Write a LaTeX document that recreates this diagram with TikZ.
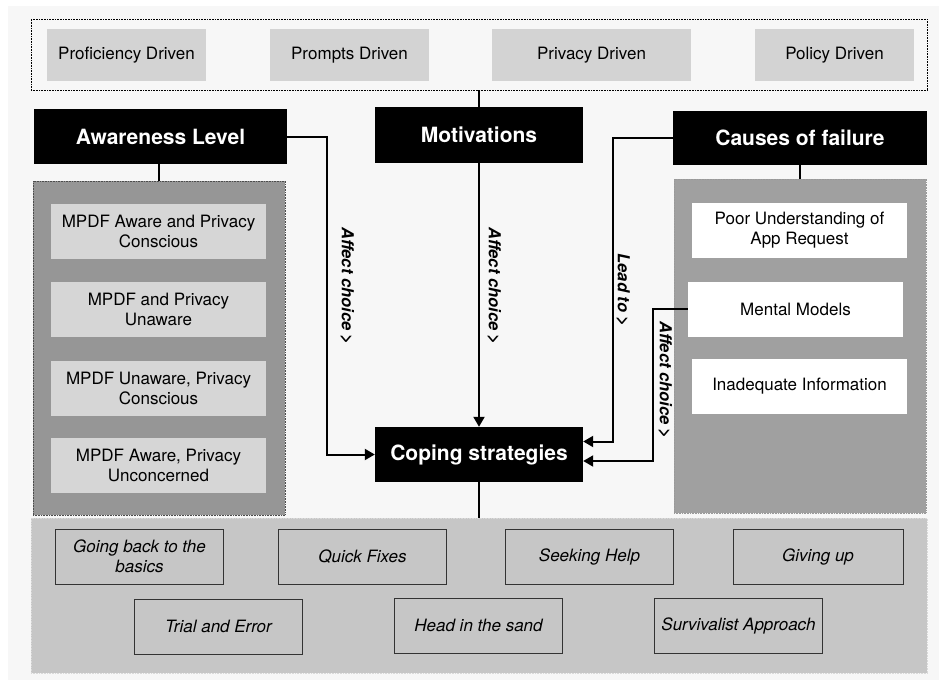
\documentclass[tikz,border=0pt]{standalone}
\usepackage{fontspec}
\setmainfont{TeX Gyre Heros}
\usepackage{tikz}
\usetikzlibrary{positioning,arrows.meta}

\definecolor{paper}{HTML}{F7F7F7}
\definecolor{drivegray}{HTML}{D3D3D3}
\definecolor{leftgray}{HTML}{969696}
\definecolor{leftitem}{HTML}{D6D6D6}
\definecolor{rightgray}{HTML}{A0A0A0}
\definecolor{bottomgray}{HTML}{C6C6C6}

\begin{document}
\begin{tikzpicture}[x=1pt, y=-1pt,
    inner sep=0pt,
    head/.style={fill=black, text=white, font=\fontsize{21}{25}\selectfont\bfseries},
    driver/.style={fill=drivegray, minimum width=159pt, minimum height=52pt, font=\fontsize{17}{20}\selectfont},
    aware item/.style={fill=leftitem, minimum width=215pt, minimum height=55pt, align=center, font=\fontsize{17}{20}\selectfont},
    cause item/.style={fill=white, minimum width=215pt, minimum height=55pt, align=center, font=\fontsize{17}{20}\selectfont},
    coping item/.style={draw=black!80, line width=0.9pt, fill=bottomgray, minimum width=168pt, minimum height=55pt, align=center, font=\fontsize{17}{20}\selectfont\itshape},
    lab/.style={rotate=-90, font=\fontsize{16.5}{19}\selectfont\bfseries\itshape},
    link/.style={line width=2pt},
    arr/.style={link, -{Triangle[length=10pt, width=11pt]}}
]

    \useasboundingbox (0,0) rectangle (939,682);
    \fill[paper] (8,6) rectangle (939,680);

    % panels
    \node[draw, densely dotted, line width=0.6pt, minimum width=896pt, minimum height=71pt] (drivers) at (479,54.5) {};
    \node[draw=black!70, densely dotted, line width=0.6pt, fill=leftgray, minimum width=252pt, minimum height=334pt] (awarebox) at (159,348) {};
    \node[draw=black!40, densely dotted, line width=0.6pt, fill=rightgray, minimum width=252pt, minimum height=334pt] (causebox) at (800,346) {};
    \node[draw=white!85!black, densely dotted, line width=0.6pt, fill=bottomgray, minimum width=896pt, minimum height=155pt] (copebox) at (479,595.5) {};

    % motivations
    \node[driver] (prof) at (126.5,55) {Proficiency Driven};
    \node[driver] (prompt) at (349.5,55) {Prompts Driven};
    \node[driver, minimum width=199pt] (priv) at (591.5,55) {Privacy Driven};
    \node[driver] (pol) at (834.5,55) {Policy Driven};

    % headings
    \node[head, minimum width=253pt, minimum height=55pt] (aware) at (160.5,136.5) {Awareness Level};
    \node[head, minimum width=208pt, minimum height=56pt] (motiv) at (479,135) {Motivations};
    \node[head, minimum width=254pt, minimum height=54pt] (causes) at (800,138) {Causes of failure};
    \node[head, minimum width=208pt, minimum height=55pt] (coping) at (479,454.5) {Coping strategies};

    % awareness levels
    \node[aware item] (a1) at (158.5,231.5) {MPDF Aware and Privacy\\Conscious};
    \node[aware item] (a2) at (158.5,309.5) {MPDF and Privacy\\Unaware};
    \node[aware item] (a3) at (158.5,388) {MPDF Unaware, Privacy\\Conscious};
    \node[aware item] (a4) at (158.5,465.5) {MPDF Aware, Privacy\\Unconcerned};

    % causes
    \node[cause item] (c1) at (799.5,230) {Poor Understanding of\\App Request};
    \node[cause item] (c2) at (795.5,309) {Mental Models};
    \node[cause item] (c3) at (799.5,386.5) {Inadequate Information};

    % strategies
    \node[coping item] (s1) at (139.5,556.5) {Going back to the\\basics};
    \node[coping item] (s2) at (362.5,556.5) {Quick Fixes};
    \node[coping item] (s3) at (589.5,556.5) {Seeking Help};
    \node[coping item, minimum width=170pt] (s4) at (818,557) {Giving up};
    \node[coping item] (s5) at (218.5,626.5) {Trial and Error};
    \node[coping item] (s6) at (478.5,625.5) {Head in the sand};
    \node[coping item] (s7) at (738.5,626) {Survivalist Approach};

    % links
    \draw[link] (drivers.south) -- (motiv.north);
    \draw[link] (aware.south -| awarebox.north) -- (awarebox.north);
    \draw[link] (causes.south) -- (causebox.north);
    \draw[link] (coping.south) -- (copebox.north);

    \draw[arr] (aware.east) -| ([xshift=-48pt]coping.west) -- (coping.west);
    \draw[arr] (motiv.south) -- (coping.north);
    \draw[arr] (causes.west) -| ([xshift=30pt, yshift=13pt]coping.east) -- ([yshift=13pt]coping.east);
    \draw[arr] (c2.west) -| ([xshift=70pt, yshift=-6.5pt]coping.east) -- ([yshift=-6.5pt]coping.east);

    % labels
    \node[lab] (l1) at (347,286) {Affect choice >};
    \node[lab] (l2) at (494,286) {Affect choice >};
    \node[lab] (l3) at (623,290) {Lead to >};
    \node[lab] (l4) at (665,380) {Affect choice >};

\end{tikzpicture}
\end{document}
